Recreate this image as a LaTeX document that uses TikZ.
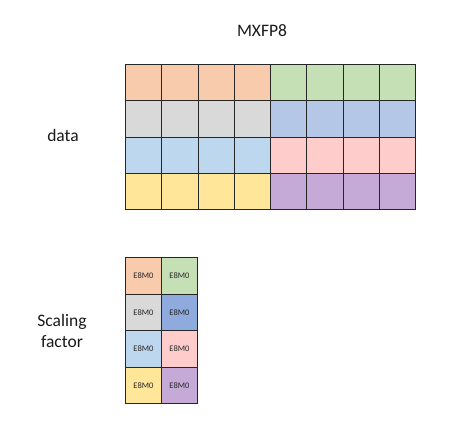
\documentclass[tikz,border=0pt]{standalone}
\usepackage{fontspec}
\setmainfont{Carlito}
\begin{document}
\begin{tikzpicture}[x=1pt,y=-1pt,
  cellbox/.style={draw=black!85,line width=0.9pt,minimum width=36.25pt,minimum height=36.25pt,inner sep=0pt,anchor=north west},
  sfbox/.style={draw=black!85,line width=0.9pt,minimum width=36pt,minimum height=36.5pt,inner sep=0pt,anchor=north west,font=\fontsize{8.5}{10}\selectfont,text=black!85},
  lbl/.style={font=\fontsize{17.5}{21}\selectfont,align=center,text=black!90}]
\useasboundingbox (0,0) rectangle (467,426);
\definecolor{cOr}{HTML}{F8CBAD}
\definecolor{cGr}{HTML}{C5E0B4}
\definecolor{cGy}{HTML}{D9D9D9}
\definecolor{cBl}{HTML}{B4C7E7}
\definecolor{cLb}{HTML}{BDD7EE}
\definecolor{cPk}{HTML}{FFCCCC}
\definecolor{cYe}{HTML}{FFE699}
\definecolor{cPu}{HTML}{C5AAD7}
\definecolor{cDb}{HTML}{8FAADC}
\node[lbl] (title) at (262,31) {MXFP8};
\node[lbl] (data) at (63,135) {data};
\node[lbl] (sf) at (62,331) {Scaling\\factor};
% data grid
\foreach \r/\cl/\cr in {0/cOr/cGr,1/cGy/cBl,2/cLb/cPk,3/cYe/cPu}{
  \foreach \c in {0,1,2,3}{
    \node[cellbox,fill=\cl] (d-\r-\c) at ({125+36.25*\c},{64+36.25*\r}) {};
  }
  \foreach \c in {4,5,6,7}{
    \node[cellbox,fill=\cr] (d-\r-\c) at ({125+36.25*\c},{64+36.25*\r}) {};
  }
}
% scaling factors
\foreach \r/\cl/\cr in {0/cOr/cGr,1/cGy/cDb,2/cLb/cPk,3/cYe/cPu}{
  \node[sfbox,fill=\cl] (s-\r-0) at (125,{257+36.5*\r}) {E8M0};
  \node[sfbox,fill=\cr] (s-\r-1) at (161,{257+36.5*\r}) {E8M0};
}
\end{tikzpicture}
\end{document}
